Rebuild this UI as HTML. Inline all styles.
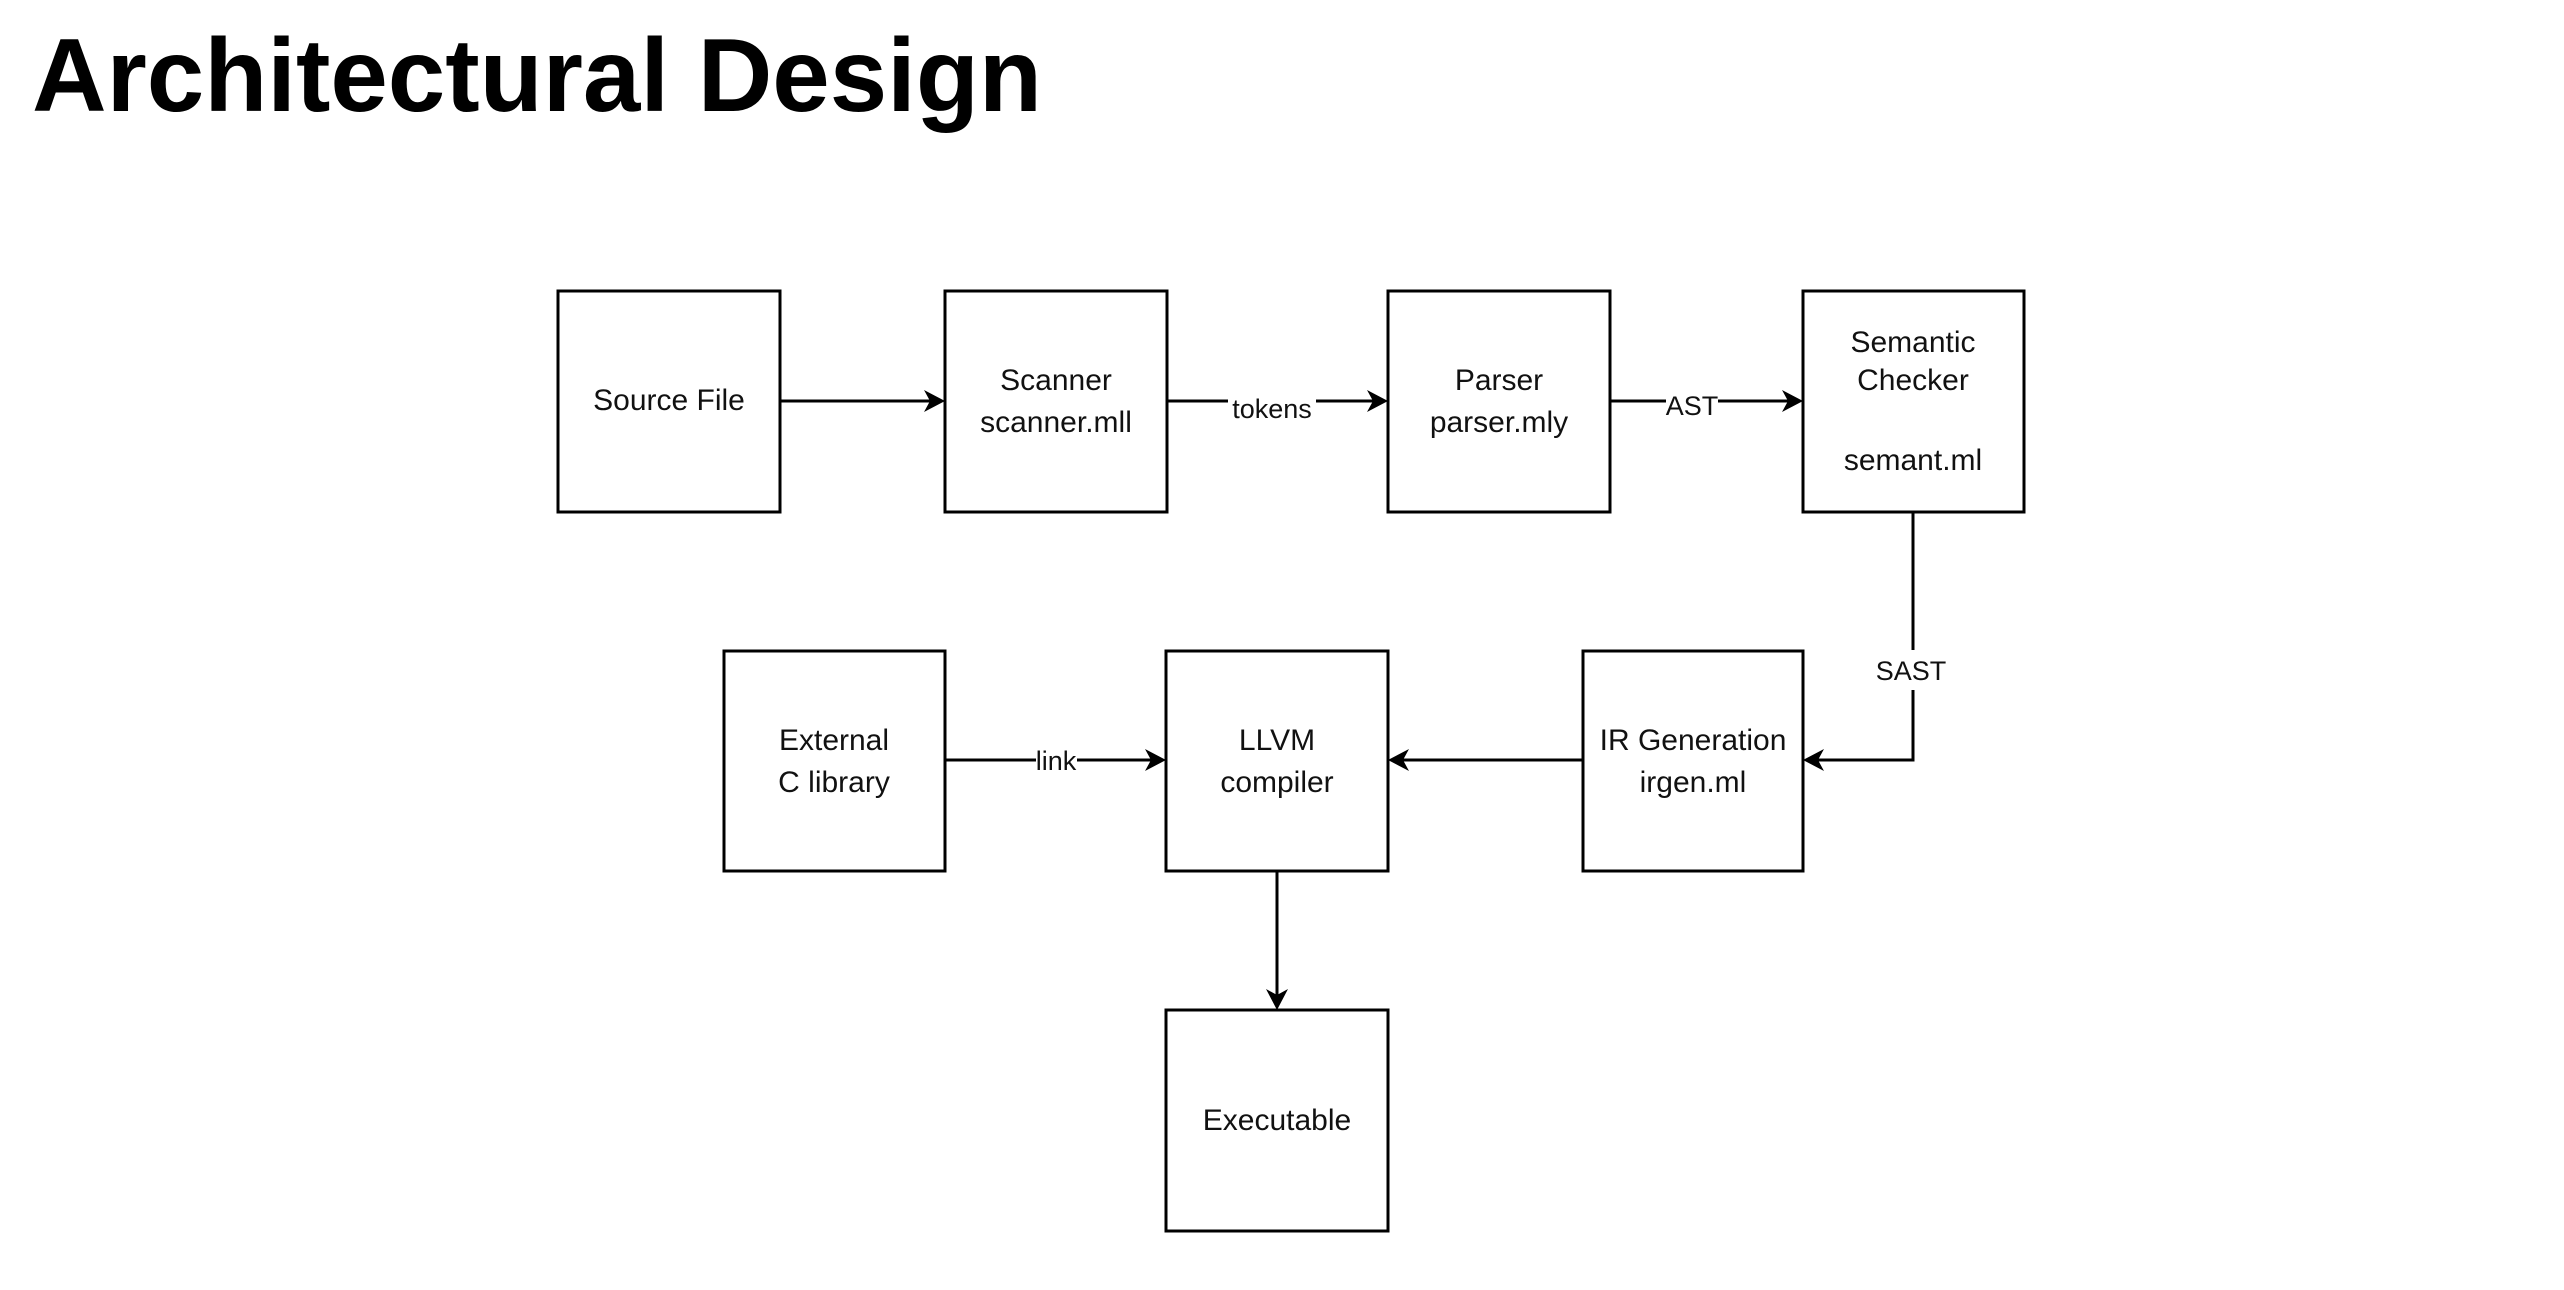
<!DOCTYPE html>
<html><head><meta charset="utf-8"><style>
html,body{margin:0;padding:0;background:#fff;}
svg{display:block;}
</style></head><body>
<svg width="2564" height="1290" viewBox="0 0 2564 1290" xmlns="http://www.w3.org/2000/svg">
<text x="32" y="111" font-family="Liberation Sans, sans-serif" font-weight="bold" font-size="104" textLength="1010" lengthAdjust="spacingAndGlyphs" fill="#000">Architectural Design</text>
<g fill="#fff" stroke="#000" stroke-width="3">
<rect x="558" y="291" width="222" height="221"/>
<rect x="945" y="291" width="222" height="221"/>
<rect x="1388" y="291" width="222" height="221"/>
<rect x="1803" y="291" width="221" height="221"/>
<rect x="724" y="651" width="221" height="220"/>
<rect x="1166" y="651" width="222" height="220"/>
<rect x="1583" y="651" width="220" height="220"/>
<rect x="1166" y="1010" width="222" height="221"/>
</g>
<g stroke="#000" stroke-width="3" fill="none">
<line x1="780" y1="401" x2="930" y2="401"/>
<line x1="1167" y1="401" x2="1228" y2="401"/>
<line x1="1316" y1="401" x2="1373" y2="401"/>
<line x1="1610" y1="401" x2="1666" y2="401"/>
<line x1="1718" y1="401" x2="1788" y2="401"/>
<polyline points="1913,512 1913,650"/>
<polyline points="1913,690 1913,760 1818,760"/>
<line x1="1583" y1="760" x2="1403" y2="760"/>
<line x1="945" y1="760" x2="1036" y2="760"/>
<line x1="1077" y1="760" x2="1151" y2="760"/>
<line x1="1277" y1="871" x2="1277" y2="995"/>
</g>
<g fill="#000">
<polygon points="945,401 924,390 930,401 924,412"/>
<polygon points="1388,401 1367,390 1373,401 1367,412"/>
<polygon points="1803,401 1782,390 1788,401 1782,412"/>
<polygon points="1803,760 1824,749 1818,760 1824,771"/>
<polygon points="1388,760 1409,749 1403,760 1409,771"/>
<polygon points="1166,760 1145,749 1151,760 1145,771"/>
<polygon points="1277,1010 1266,989 1277,995 1288,989"/>
</g>
<g font-family="Liberation Sans, sans-serif" font-size="30" fill="#111" text-anchor="middle">
<text x="669" y="410">Source File</text>
<text x="1056" y="390">Scanner</text>
<text x="1056" y="432">scanner.mll</text>
<text x="1499" y="390">Parser</text>
<text x="1499" y="432">parser.mly</text>
<text x="1913" y="352">Semantic</text>
<text x="1913" y="390">Checker</text>
<text x="1913" y="470">semant.ml</text>
<text x="834" y="750">External</text>
<text x="834" y="792">C library</text>
<text x="1277" y="750">LLVM</text>
<text x="1277" y="792">compiler</text>
<text x="1693" y="750">IR Generation</text>
<text x="1693" y="792">irgen.ml</text>
<text x="1277" y="1130">Executable</text>
</g>
<g font-family="Liberation Sans, sans-serif" font-size="27" fill="#111" text-anchor="middle">
<text x="1272" y="418">tokens</text>
<text x="1692" y="415">AST</text>
<text x="1911" y="680">SAST</text>
<text x="1056" y="770">link</text>
</g>
</svg>
</body></html>
